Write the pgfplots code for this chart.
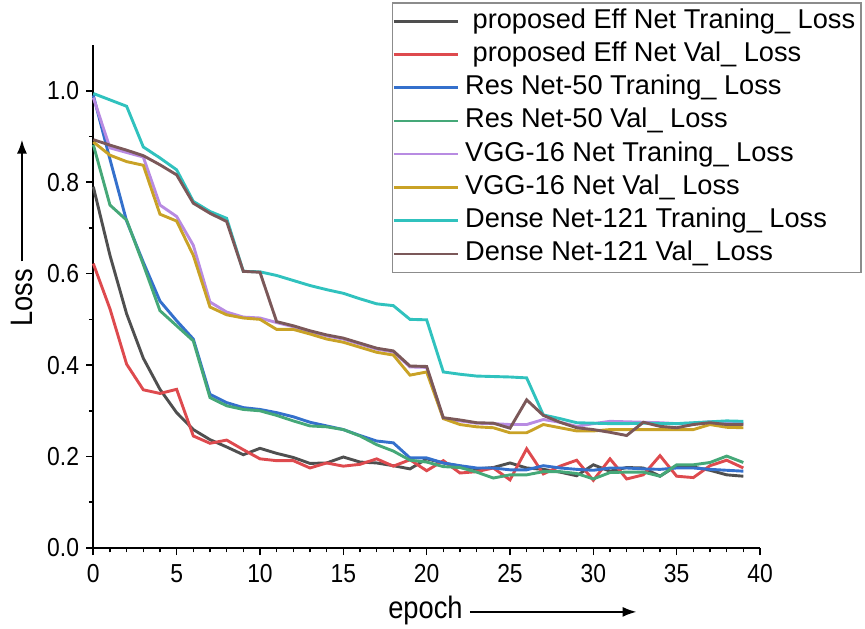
\documentclass[border=0pt]{standalone}
\usepackage{fontspec}
\setmainfont{Liberation Sans}
\newfontfamily\narrowfont[FakeStretch=0.88]{Liberation Sans}
\usepackage{pgfplots}
\usepackage{pgfplotstable}
\pgfplotsset{compat=1.18}
\usetikzlibrary{arrows.meta}

\definecolor{effTrain}{HTML}{4F4F4F}
\definecolor{effVal}{HTML}{DE4A4E}
\definecolor{resTrain}{HTML}{3470CC}
\definecolor{resVal}{HTML}{45A878}
\definecolor{vggTrain}{HTML}{B88BE2}
\definecolor{vggVal}{HTML}{C9A226}
\definecolor{denseTrain}{HTML}{30C2BE}
\definecolor{denseVal}{HTML}{7B5859}

% epoch, then one loss column per curve
\pgfplotstableread{
ep  effT  effV  resT  resV  vggT  vggV  denT  denV
0   0.790 0.622 0.990 0.882 0.985 0.888 0.994 0.893
1   0.640 0.523 0.850 0.750 0.875 0.859 0.980 0.881
2   0.512 0.402 0.715 0.717 0.865 0.845 0.966 0.870
3   0.415 0.346 0.625 0.620 0.855 0.837 0.877 0.858
4   0.347 0.338 0.540 0.519 0.750 0.730 0.853 0.838
5   0.296 0.347 0.497 0.486 0.725 0.715 0.827 0.816
6   0.259 0.245 0.457 0.453 0.662 0.640 0.758 0.754
7   0.237 0.229 0.336 0.329 0.538 0.527 0.736 0.732
8   0.221 0.236 0.318 0.311 0.516 0.510 0.721 0.714
9   0.204 0.215 0.307 0.303 0.505 0.503 0.605 0.605
10  0.218 0.195 0.303 0.300 0.503 0.500 0.604 0.603
11  0.207 0.191 0.296 0.290 0.493 0.478 0.596 0.495
12  0.198 0.191 0.287 0.278 0.484 0.478 0.585 0.486
13  0.185 0.175 0.275 0.267 0.473 0.468 0.574 0.475
14  0.186 0.186 0.267 0.265 0.464 0.457 0.565 0.466
15  0.199 0.179 0.259 0.259 0.457 0.450 0.557 0.459
16  0.188 0.183 0.246 0.245 0.446 0.439 0.545 0.448
17  0.186 0.195 0.234 0.226 0.435 0.428 0.534 0.437
18  0.180 0.179 0.230 0.212 0.429 0.422 0.530 0.431
19  0.173 0.193 0.197 0.192 0.396 0.378 0.500 0.398
20  0.195 0.169 0.197 0.188 0.395 0.385 0.499 0.397
21  0.186 0.191 0.186 0.178 0.283 0.283 0.385 0.285
22  0.179 0.164 0.180 0.176 0.278 0.270 0.380 0.280
23  0.173 0.167 0.175 0.166 0.273 0.265 0.376 0.274
24  0.176 0.175 0.175 0.153 0.272 0.263 0.375 0.273
25  0.186 0.149 0.171 0.160 0.270 0.252 0.374 0.262
26  0.175 0.217 0.171 0.160 0.270 0.252 0.372 0.324
27  0.172 0.162 0.180 0.167 0.281 0.270 0.291 0.290
28  0.166 0.179 0.175 0.167 0.275 0.263 0.283 0.275
29  0.158 0.192 0.172 0.163 0.266 0.256 0.274 0.263
30  0.182 0.148 0.170 0.151 0.272 0.256 0.273 0.259
31  0.168 0.195 0.175 0.165 0.277 0.259 0.272 0.253
32  0.176 0.151 0.175 0.166 0.276 0.259 0.272 0.246
33  0.175 0.160 0.173 0.166 0.275 0.259 0.273 0.275
34  0.157 0.202 0.172 0.157 0.274 0.259 0.272 0.266
35  0.180 0.157 0.175 0.182 0.272 0.259 0.272 0.263
36  0.177 0.154 0.175 0.182 0.273 0.259 0.274 0.270
37  0.170 0.180 0.172 0.187 0.276 0.270 0.276 0.274
38  0.160 0.192 0.170 0.201 0.273 0.264 0.278 0.270
39  0.157 0.175 0.168 0.187 0.272 0.263 0.277 0.270
}\losstable

\begin{document}
\begin{tikzpicture}
% page frame around the axis box (axis box spans 333.35pt x 251.5pt)
\path[use as bounding box] (-46.65pt,-40pt) rectangle (385.85pt,274pt);
\begin{axis}[
  at={(0pt,0pt)}, anchor=south west,
  scale only axis, width=333.35pt, height=251.5pt,
  xmin=0, xmax=40, ymin=0, ymax=1.1,
  axis x line*=bottom, axis y line*=left,
  axis line style={black, line width=1pt},
  xtick={0,5,...,40}, minor x tick num=4,
  ytick={0,0.2,0.4,0.6,0.8,1.0}, minor y tick num=1,
  tick align=outside,
  major tick length=3.6pt, minor tick length=2.2pt,
  every tick/.style={black, line width=0.8pt},
  /pgf/number format/assume math mode=true,
  yticklabel style={/pgf/number format/.cd, fixed, fixed zerofill, precision=1},
  ticklabel style={font=\narrowfont\fontsize{13}{15}\selectfont},
  xticklabel style={yshift=-1pt},
  clip=false,
  every axis plot/.append style={line width=1.45pt},
  legend style={
    at={(rel axis cs:1.153,1.0855)}, anchor=north east,
    draw=black!45, line width=0.8pt,
    font=\fontsize{13.6}{16}\selectfont,
    inner xsep=0pt, inner ysep=1pt,
    nodes={text height=10pt, text depth=3pt, inner ysep=1.8pt, inner xsep=3pt},
  },
  legend cell align=left,
  legend image code/.code={\draw[#1, line width=1.3pt] (-1pt,0pt) -- (31pt,0pt);},
]
\addplot[effTrain]   table[x=ep, y=effT] \losstable;
\addplot[effVal]     table[x=ep, y=effV] \losstable;
\addplot[resTrain]   table[x=ep, y=resT] \losstable;
\addplot[resVal]     table[x=ep, y=resV] \losstable;
\addplot[vggTrain]   table[x=ep, y=vggT] \losstable;
\addplot[vggVal]     table[x=ep, y=vggV] \losstable;
\addplot[denseTrain] table[x=ep, y=denT] \losstable;
\addplot[denseVal]   table[x=ep, y=denV] \losstable;
\legend{\ proposed Eff Net Traning\_ Loss,
        \ proposed Eff Net Val\_ Loss,
        Res Net-50 Traning\_ Loss,
        Res Net-50 Val\_ Loss,
        VGG-16 Net Traning\_ Loss,
        VGG-16 Net Val\_ Loss,
        Dense Net-121 Traning\_ Loss,
        Dense Net-121 Val\_ Loss}

% axis titles with their arrows
\node[font=\narrowfont\fontsize{15.5}{17}\selectfont, anchor=east, inner sep=0pt]
  at (rel axis cs:0.5545,-0.125) {epoch};
\draw[line width=1pt, -{Latex[length=7pt, width=5pt]}]
  (rel axis cs:0.565,-0.127) -- (rel axis cs:0.815,-0.127);
\node[font=\narrowfont\fontsize{15.5}{17}\selectfont, rotate=90, anchor=east, inner sep=0pt]
  at (rel axis cs:-0.107,0.555) {Loss};
\draw[line width=1pt, -{Latex[length=7pt, width=5pt]}]
  (rel axis cs:-0.107,0.570) -- (rel axis cs:-0.107,0.812);
\end{axis}
\end{tikzpicture}
\end{document}
